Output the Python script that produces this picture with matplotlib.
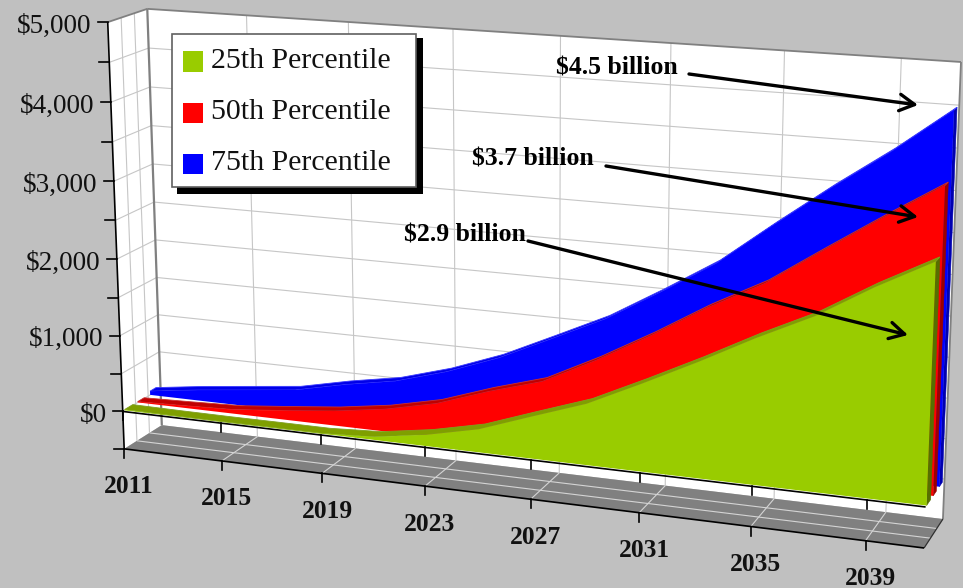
import numpy as np
import matplotlib
matplotlib.use("Agg")
import matplotlib.pyplot as plt
from matplotlib.legend_handler import HandlerPatch
from matplotlib.patches import Patch, Rectangle
from matplotlib.transforms import Transform

# Projected cost by percentile, millions of dollars
YEARS = [2011, 2013, 2015, 2017, 2019, 2021, 2023, 2025, 2027, 2029, 2031, 2033, 2035, 2037, 2039, 2041]
P25 = [10, 5, 3, 5, 5, 40, 145, 295, 535, 770, 1095, 1435, 1795, 2125, 2535, 2900]
P50 = [10, 30, 55, 120, 190, 290, 440, 670, 870, 1210, 1590, 2000, 2360, 2820, 3270, 3700]
P75 = [50, 140, 215, 290, 435, 555, 750, 1000, 1315, 1635, 2035, 2455, 2985, 3495, 3975, 4500]
SERIES_NAMES = ["25th Percentile", "50th Percentile", "75th Percentile"]
YEAR_TICKS = [2011, 2015, 2019, 2023, 2027, 2031, 2035, 2039]
VALUE_TICKS = [0, 1000, 2000, 3000, 4000, 5000]
VALUE_TICK_LABELS = ["$0", "$1,000", "$2,000", "$3,000", "$4,000", "$5,000"]
CALLOUTS = ["$4.5 billion", "$3.7 billion", "$2.9 billion"]

YEAR_MIN, YEAR_MAX = 2011, 2041
VAL_MIN, VAL_MAX = -500, 5000
VAL_STEP = 500

SERIF = "Liberation Serif"
BG = "#c0c0c0"
GRID = "#c6c6c6"
FRAME = "#808080"

# Perspective camera solved from where the corners of the chart box land on the canvas
box_corners = [((0, 1, 0), (108, 22)), ((0, 1, 1), (147, 9)), ((0, 0, 1), (162, 425)),
               ((0, 0, 0), (124, 449)), ((1, 0, 0), (924, 548)), ((1, 0, 1), (943, 519)),
               ((1, 1, 1), (961, 62))]
rows = []
for (u, v, w), (x, y) in box_corners:
    rows.append([u, v, w, 1, 0, 0, 0, 0, -x * u, -x * v, -x * w, -x])
    rows.append([0, 0, 0, 0, u, v, w, 1, -y * u, -y * v, -y * w, -y])
CAMERA = np.linalg.svd(np.array(rows, float))[2][-1].reshape(3, 4)


def project(year, value, depth):
    year, value, depth = np.broadcast_arrays(np.asarray(year, float), np.asarray(value, float),
                                             np.asarray(depth, float))
    u = (year - YEAR_MIN) / (YEAR_MAX - YEAR_MIN)
    v = (value - VAL_MIN) / (VAL_MAX - VAL_MIN)
    q = CAMERA @ np.vstack([u.ravel(), v.ravel(), depth.ravel(), np.ones(u.size)])
    return q[0] / q[2], q[1] / q[2]


class DepthPlane(Transform):
    """Maps (year, value) on a plane of constant depth to canvas coordinates."""
    input_dims = 2
    output_dims = 2
    is_separable = False
    has_inverse = False

    def __init__(self, plane_depth):
        super().__init__()
        self.plane_depth = plane_depth

    def transform_non_affine(self, values):
        x, y = project(values[:, 0], values[:, 1], self.plane_depth)
        return np.column_stack([x, y])


fig = plt.figure(figsize=(9.63, 5.88), dpi=100, facecolor=BG)
ax = fig.add_axes([0, 0, 1, 1])
ax.set_xlim(0, 963)
ax.set_ylim(588, 0)
ax.axis("off")
ax.autoscale(False)


def seg(y0, v0, d0, y1, v1, d1, **kw):
    xs, ys = project([y0, y1], [v0, v1], [d0, d1])
    ax.plot(xs, ys, solid_capstyle="butt", **kw)


# Walls and floor
for quad, colour in [
    ([(YEAR_MIN, VAL_MIN, 0), (YEAR_MIN, VAL_MAX, 0), (YEAR_MIN, VAL_MAX, 1), (YEAR_MIN, VAL_MIN, 1)], "white"),
    ([(YEAR_MIN, VAL_MIN, 1), (YEAR_MIN, VAL_MAX, 1), (YEAR_MAX, VAL_MAX, 1), (YEAR_MAX, VAL_MIN, 1)], "white"),
    ([(YEAR_MIN, VAL_MIN, 0), (YEAR_MAX, VAL_MIN, 0), (YEAR_MAX, VAL_MIN, 1), (YEAR_MIN, VAL_MIN, 1)], "#808080"),
]:
    yy, vv, dd = zip(*quad)
    ax.fill(*project(yy, vv, dd), color=colour, lw=0, zorder=1)

# Gridlines on the walls and floor
for val in np.arange(VAL_MIN + VAL_STEP, VAL_MAX, VAL_STEP):
    seg(YEAR_MIN, val, 1, YEAR_MAX, val, 1, color=GRID, lw=0.8, zorder=2)
    seg(YEAR_MIN, val, 0, YEAR_MIN, val, 1, color=GRID, lw=0.8, zorder=2)
for d in (1 / 3, 2 / 3):
    seg(YEAR_MIN, VAL_MIN, d, YEAR_MIN, VAL_MAX, d, color=GRID, lw=0.8, zorder=2)
    seg(YEAR_MIN, VAL_MIN, d, YEAR_MAX, VAL_MIN, d, color="#d4d4d4", lw=0.8, zorder=2)
for yr in YEAR_TICKS[1:]:
    seg(yr, VAL_MIN, 1, yr, VAL_MAX, 1, color=GRID, lw=0.8, zorder=2)
    seg(yr, VAL_MIN, 0, yr, VAL_MIN, 1, color="#d4d4d4", lw=0.8, zorder=2)

# Outline of the chart box
seg(YEAR_MIN, VAL_MIN, 1, YEAR_MIN, VAL_MAX, 1, color=FRAME, lw=1.6, zorder=2.5)
seg(YEAR_MIN, VAL_MAX, 0, YEAR_MIN, VAL_MAX, 1, color=FRAME, lw=1.3, zorder=2.5)
seg(YEAR_MIN, VAL_MAX, 1, YEAR_MAX, VAL_MAX, 1, color=FRAME, lw=1.3, zorder=2.5)
seg(YEAR_MAX, VAL_MIN, 1, YEAR_MAX, VAL_MAX, 1, color=FRAME, lw=1.3, zorder=2.5)
seg(YEAR_MAX, VAL_MIN, 0, YEAR_MAX, VAL_MIN, 1, color="#303030", lw=0.9, zorder=2.5)

# Axis lines and tick marks
AXIS_KW = dict(color="black", lw=1.2, zorder=3)
seg(YEAR_MIN, VAL_MIN, 0, YEAR_MIN, VAL_MAX, 0, **AXIS_KW)
seg(YEAR_MIN, VAL_MIN, 0, YEAR_MAX, VAL_MIN, 0, **AXIS_KW)
seg(YEAR_MIN, 0, 0, YEAR_MAX, 0, 0, **AXIS_KW)
for val in np.arange(VAL_MIN, VAL_MAX + 1, VAL_STEP):
    x, y = project(YEAR_MIN, val, 0)
    ax.plot([x[0] - 10, x[0]], [y[0], y[0]], **AXIS_KW)
for yr in YEAR_TICKS:
    for base in (VAL_MIN, 0):
        x, y = project(yr, base, 0)
        ax.plot([x[0], x[0]], [y[0], y[0] + 9], **AXIS_KW)

# Percentile ribbons, furthest first
ribbons = [
    (P75, (0.72, 0.88), "#0000ff", "#0000e8", "#0000b0", "#3a3aff", SERIES_NAMES[2]),
    (P50, (0.39, 0.56), "#ff0000", "#c00000", "#9a0000", "#c83030", SERIES_NAMES[1]),
    (P25, (0.05, 0.26), "#99cc00", "#7f9f00", "#566f00", "#7f9f20", SERIES_NAMES[0]),
]
legend_handles = {}
for k, (values, (d_front, d_back), face, top, side, edge, name) in enumerate(ribbons):
    z = 4 + k
    years = np.array(YEARS, float)
    vals = np.array(values, float)
    # right-hand end cap
    ax.fill(*project([YEAR_MAX, YEAR_MAX, YEAR_MAX, YEAR_MAX], [0, vals[-1], vals[-1], 0],
                     [d_front, d_front, d_back, d_back]), color=side, lw=0.4, zorder=z)
    # upper surface
    fx, fy = project(years, vals, d_front)
    bx, by = project(years, vals, d_back)
    ax.fill(np.r_[fx, bx[::-1]], np.r_[fy, by[::-1]], facecolor=top, edgecolor=edge, lw=0.6, zorder=z)
    # front face
    ax.fill_between(YEARS, 0, values, transform=DepthPlane(d_front) + ax.transData,
                    facecolor=face, edgecolor="none", zorder=z + 0.1)
    legend_handles[name] = Patch(facecolor=face, edgecolor="none", label=name)

# Value and year labels
for val, label in zip(VALUE_TICKS, VALUE_TICK_LABELS):
    x, y = project(YEAR_MIN, val, 0)
    ax.text(x[0] - 16, y[0] + 4, label, ha="right", va="center", family=SERIF, fontsize=19.5,
            color="#111111", parse_math=False, zorder=8)
for yr in YEAR_TICKS:
    x, y = project(yr, VAL_MIN, 0)
    ax.text(x[0] + 5, y[0] + 38, str(yr), ha="center", va="center", family=SERIF, fontsize=18.4,
            fontweight="bold", color="#111111", zorder=8)


def lowered_swatch(legend, orig_handle, xdescent, ydescent, width, height, fontsize):
    # Legend keys sit slightly below the centre of their labels
    return Rectangle((-xdescent, -ydescent - 3.2), width, height)


# Legend panel with a hard black drop shadow
ax.add_patch(Rectangle((177, 38), 246, 156, facecolor="black", edgecolor="none", zorder=9.5))
ax.add_patch(Rectangle((172, 34), 244, 153, facecolor="white", edgecolor="#606060", lw=1.2, zorder=9.6))
leg = ax.legend(
    handles=[legend_handles[n] for n in SERIES_NAMES],
    handler_map={Patch: HandlerPatch(patch_func=lowered_swatch)},
    loc="upper left", bbox_to_anchor=(183 / 963, 1 - 47 / 588),
    borderaxespad=0, borderpad=0, labelspacing=0.815,
    handlelength=0.68, handleheight=0.68, handletextpad=0.27,
    prop={"family": SERIF, "size": 21.5}, labelcolor="#111111", frameon=False,
)
leg.set_zorder(10)

# Callouts pointing at the end of each ribbon
callout_layout = [((617, 68), (689, 74), (918, 105)),
                  ((533, 159), (606, 166), (918, 217)),
                  ((465, 235), (528, 241), (908, 335))]
for text, (centre, start, end) in zip(CALLOUTS, callout_layout):
    ax.text(*centre, text, ha="center", va="center", family=SERIF, fontsize=18.5,
            fontweight="bold", color="black", parse_math=False, zorder=11)
    ax.annotate("", xy=end, xytext=start, zorder=11,
                arrowprops=dict(arrowstyle="->,head_length=0.6,head_width=0.33", color="black",
                                lw=2.4, shrinkA=0, shrinkB=0, mutation_scale=18))

fig.savefig("out.png", dpi=100, facecolor=BG)
